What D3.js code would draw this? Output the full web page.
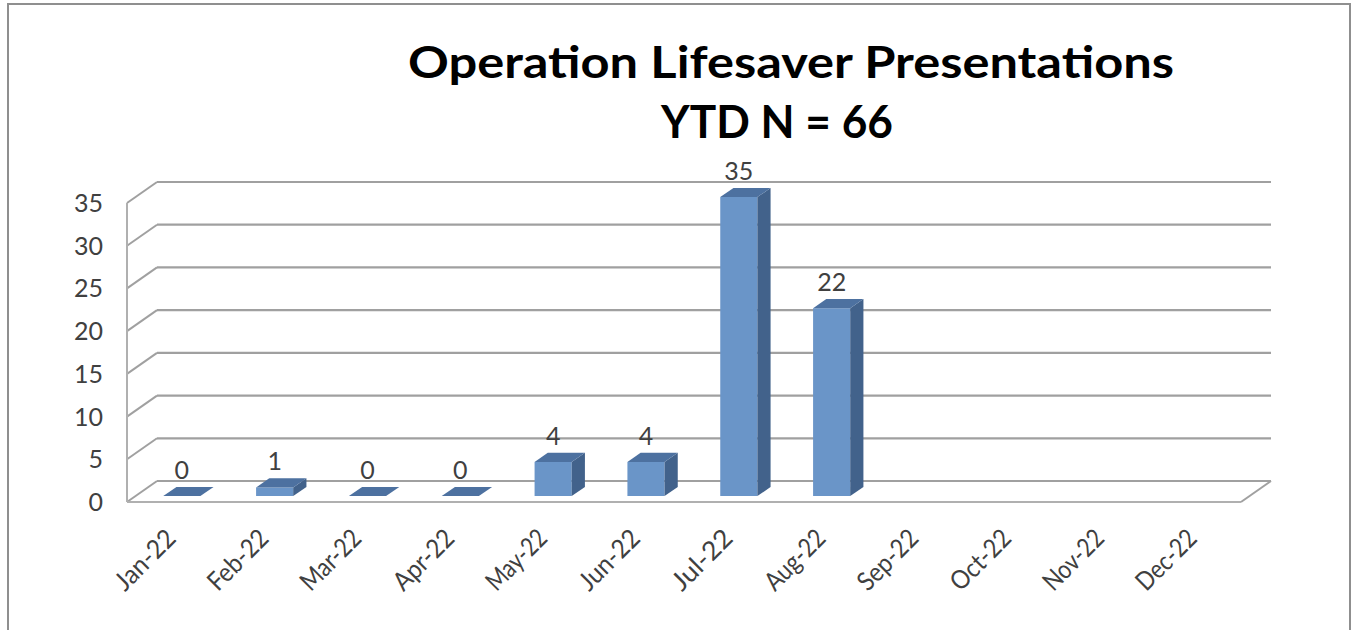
<!DOCTYPE html>
<html>
<head>
<meta charset="utf-8">
<script src="https://cdn.jsdelivr.net/npm/d3@7"></script>
<style>
  html, body { margin: 0; padding: 0; background: #ffffff; }
  svg { display: block; }
</style>
</head>
<body>
<svg id="chart" width="1353" height="630"></svg>
<script>
// ---- data ----
const months = ["Jan-22","Feb-22","Mar-22","Apr-22","May-22","Jun-22","Jul-22","Aug-22","Sep-22","Oct-22","Nov-22","Dec-22"];
const presentations = [0, 1, 0, 0, 4, 4, 35, 22, null, null, null, null];
const yTicks = [0, 5, 10, 15, 20, 25, 30, 35];
const titleLines = ["Operation Lifesaver Presentations", "YTD N = 66"];

// ---- layout ----
const svg = d3.select("#chart");
const font = "Lato, 'Open Sans', sans-serif";
const gridColor = "#a0a0a0";
const textColor = "#404040";

// frame
svg.append("rect").attr("x", 8).attr("y", 4).attr("width", 1342).attr("height", 660)
  .attr("fill", "#fff").attr("stroke", "#8f8f8f").attr("stroke-width", 2);

// 3D depth offsets (back wall relative to front)
const depthX = 30, depthY = -21;

const x = d3.scaleBand().domain(months).range([127, 1241]).paddingInner(0.6).paddingOuter(0.3);
const y = d3.scaleLinear().domain([0, 35]).range([502, 203]);

// title
svg.append("text").attr("x", 791).attr("y", 78).attr("text-anchor", "middle")
  .attr("font-family", font).attr("font-weight", 700).attr("font-size", 44)
  .attr("textLength", 766).attr("lengthAdjust", "spacingAndGlyphs")
  .attr("fill", "#000").text(titleLines[0]);
svg.append("text").attr("x", 777).attr("y", 138).attr("text-anchor", "middle")
  .attr("font-family", font).attr("font-weight", 700).attr("font-size", 46)
  .attr("textLength", 232).attr("lengthAdjust", "spacingAndGlyphs")
  .attr("fill", "#000").text(titleLines[1]);

const x0 = x.range()[0], x1 = x.range()[1];
const g = svg.append("g");

// back-wall gridlines and left-wall diagonals
yTicks.forEach(t => {
  const yf = y(t);
  g.append("line").attr("x1", x0 + depthX).attr("y1", yf + depthY).attr("x2", x1 + depthX).attr("y2", yf + depthY)
    .attr("stroke", gridColor).attr("stroke-width", 2.2);
  g.append("line").attr("x1", x0).attr("y1", yf).attr("x2", x0 + depthX).attr("y2", yf + depthY)
    .attr("stroke", gridColor).attr("stroke-width", 2);
});
// left wall front edge
g.append("line").attr("x1", x0).attr("y1", y(0)).attr("x2", x0).attr("y2", y(35))
  .attr("stroke", "#b0b0b0").attr("stroke-width", 2);
// floor front edge and right diagonal
g.append("line").attr("x1", x0).attr("y1", y(0)).attr("x2", x1).attr("y2", y(0))
  .attr("stroke", "#b0b0b0").attr("stroke-width", 2);
g.append("line").attr("x1", x1).attr("y1", y(0)).attr("x2", x1 + depthX).attr("y2", y(0) + depthY)
  .attr("stroke", gridColor).attr("stroke-width", 2);

// y tick labels
svg.append("g").selectAll("text").data(yTicks).join("text")
  .attr("x", 103).attr("y", d => y(d)).attr("dy", "0.36em")
  .attr("text-anchor", "end").attr("font-family", font).attr("font-size", 25)
  .attr("fill", textColor).text(d => d);

// bars
const dFront = 0.28, dBack = 0.72;
const fx = depthX * dFront, fy = depthY * dFront;
const bx = depthX * dBack, by = depthY * dBack;
const bars = months.map((m, i) => ({ m, v: presentations[i] })).filter(d => d.v !== null);
const bw = x.bandwidth();
const bg = svg.append("g");
bars.forEach(d => {
  const L = x(d.m) + fx, R = L + bw;
  const B = y(0) + fy, T = y(d.v) + fy;
  const ddx = bx - fx, ddy = by - fy;
  if (d.v > 0) {
    bg.append("polygon").attr("points", [[L,B],[R,B],[R,T],[L,T]].join(" ")).attr("fill", "#6a95c8");
    bg.append("polygon").attr("points", [[R,B],[R+ddx,B+ddy],[R+ddx,T+ddy],[R,T]].join(" ")).attr("fill", "#42628b");
  }
  bg.append("polygon").attr("points", [[L,T],[R,T],[R+ddx,T+ddy],[L+ddx,T+ddy]].join(" ")).attr("fill", "#4d71a0");
  // value label
  bg.append("text").attr("x", (L + R) / 2).attr("y", T + ddy - 8).attr("text-anchor", "middle")
    .attr("font-family", font).attr("font-size", 25).attr("fill", textColor).text(d.v);
});

// x labels
svg.append("g").selectAll("text").data(months).join("text")
  .attr("transform", d => `translate(${x(d) + bw / 2 + 4},${540}) rotate(-45)`)
  .attr("text-anchor", "end").attr("font-family", font).attr("font-size", 26)
  .attr("textLength", 74).attr("lengthAdjust", "spacingAndGlyphs")
  .attr("fill", textColor).text(d => d);
</script>
</body>
</html>
